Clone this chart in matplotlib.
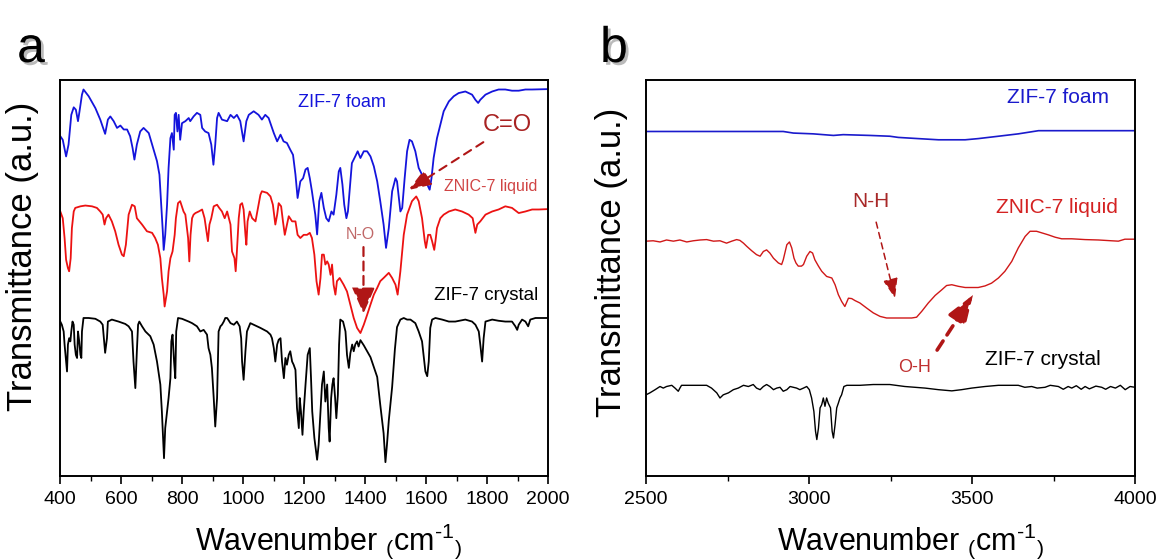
"""FTIR spectra of ZIF-7 foam, ZNIC-7 liquid and ZIF-7 crystal: two panels,
fingerprint region (a) and the N-H / O-H stretch region (b)."""

import matplotlib

matplotlib.use("Agg")

import matplotlib.pyplot as plt  # noqa: E402
import numpy as np  # noqa: E402
from matplotlib import font_manager  # noqa: E402
from matplotlib import patheffects as pe  # noqa: E402
from matplotlib.ticker import MultipleLocator  # noqa: E402

# (wavenumber cm-1, transmittance a.u.), offset traces
FOAM_A = np.array([
    (401, 85.8), (409, 84.9), (420, 80.7), (428, 83.7), (437, 91.2), (445, 93.1),
    (452, 92.5), (459, 89.6), (464, 92.1), (472, 96.3), (477, 97.6), (494, 95.9),
    (516, 92.9), (532, 90.0), (548, 86.4), (557, 90.0), (565, 90.8), (576, 89.6),
    (587, 87.9), (598, 88.5), (609, 87.5), (620, 87.5), (630, 85.8), (638, 82.8),
    (644, 79.9), (652, 83.7), (663, 87.0), (674, 87.9), (691, 86.6), (707, 82.4),
    (718, 79.5), (726, 76.1), (732, 68.5), (737, 61.8), (740, 57.1), (745, 60.9),
    (751, 68.5), (756, 77.8), (762, 85.3), (767, 86.6), (773, 82.4), (776, 91.2),
    (780, 91.7), (785, 87.0), (789, 91.2), (794, 84.9), (800, 89.1), (811, 89.6),
    (822, 90.4), (827, 89.6), (838, 90.8), (849, 91.7), (860, 91.2), (866, 87.9),
    (876, 87.0), (887, 86.6), (896, 83.7), (903, 78.6), (909, 83.7), (915, 90.4),
    (920, 91.7), (931, 90.0), (948, 89.6), (959, 91.2), (970, 90.4), (980, 91.2),
    (991, 89.6), (1002, 84.5), (1011, 89.6), (1019, 91.2), (1035, 92.1),
    (1051, 91.2), (1062, 90.0), (1073, 91.2), (1084, 90.4), (1101, 86.6),
    (1112, 84.5), (1123, 86.2), (1133, 84.5), (1144, 84.1), (1155, 82.4),
    (1164, 81.1), (1172, 76.1), (1179, 70.2), (1188, 74.4), (1197, 75.2),
    (1205, 77.4), (1212, 77.8), (1219, 75.2), (1226, 71.9), (1237, 66.0),
    (1243, 61.0), (1250, 69.4), (1257, 71.5), (1265, 67.7), (1273, 65.1),
    (1281, 64.3), (1290, 66.8), (1297, 66.0), (1306, 71.0), (1314, 76.9),
    (1319, 77.8), (1326, 73.6), (1332, 68.5), (1339, 65.1), (1344, 66.8),
    (1352, 74.4), (1357, 79.0), (1368, 80.7), (1376, 82.0), (1385, 80.3),
    (1396, 82.0), (1407, 82.0), (1418, 80.7), (1429, 78.2), (1440, 74.4),
    (1450, 69.4), (1461, 63.5), (1469, 57.6), (1478, 62.6), (1489, 71.9),
    (1500, 75.2), (1505, 74.4), (1511, 70.2), (1516, 66.8), (1522, 67.7),
    (1530, 75.2), (1538, 82.0), (1546, 84.9), (1554, 84.5), (1565, 82.0),
    (1576, 77.8), (1587, 76.1), (1598, 75.2), (1607, 73.1), (1612, 72.3),
    (1618, 75.2), (1625, 80.3), (1636, 85.3), (1647, 88.7), (1658, 92.1),
    (1675, 94.6), (1691, 95.9), (1707, 96.7), (1729, 97.1), (1751, 96.3),
    (1762, 95.0), (1771, 94.2), (1778, 95.0), (1795, 96.3), (1817, 97.1),
    (1838, 97.6), (1860, 97.6), (1882, 97.3), (1904, 97.3), (1926, 97.6),
    (1948, 97.6), (2000, 97.7),
])

LIQUID_A = np.array([
    (401, 66.8), (409, 65.1), (415, 60.1), (420, 54.6), (426, 52.5), (430, 51.7),
    (435, 55.0), (439, 62.6), (445, 66.8), (450, 67.7), (467, 68.1), (483, 68.3),
    (505, 68.1), (521, 67.7), (532, 66.8), (540, 66.0), (546, 63.5), (551, 65.1),
    (559, 66.0), (570, 64.3), (581, 61.8), (592, 58.4), (603, 55.9), (609, 55.5),
    (616, 58.4), (625, 66.0), (636, 68.5), (645, 68.1), (652, 65.1), (669, 63.5),
    (685, 61.8), (702, 61.4), (712, 60.1), (721, 58.4), (729, 55.0), (734, 50.0),
    (740, 45.8), (743, 42.8), (751, 46.6), (756, 51.7), (762, 55.0), (769, 56.7),
    (776, 60.9), (780, 65.1), (787, 68.9), (794, 69.4), (805, 66.8), (811, 66.0),
    (820, 60.1), (824, 54.2), (828, 60.9), (833, 65.1), (838, 66.0), (844, 66.4),
    (855, 66.8), (866, 67.3), (874, 65.1), (882, 60.9), (885, 59.3), (890, 63.5),
    (896, 65.1), (904, 68.1), (915, 68.5), (922, 67.7), (931, 66.8), (940, 65.1),
    (948, 66.8), (959, 63.5), (964, 56.7), (972, 55.0), (976, 51.7), (980, 56.7),
    (986, 65.1), (991, 68.5), (997, 68.9), (1002, 67.3), (1008, 60.9),
    (1011, 58.4), (1015, 64.3), (1022, 66.8), (1030, 65.1), (1041, 64.3),
    (1051, 68.5), (1057, 71.0), (1062, 71.9), (1079, 71.5), (1090, 70.6),
    (1098, 68.5), (1106, 63.5), (1112, 66.0), (1117, 68.9), (1125, 68.1),
    (1131, 64.3), (1137, 60.9), (1144, 63.5), (1150, 65.6), (1161, 64.3),
    (1172, 64.3), (1179, 60.9), (1188, 60.1), (1199, 60.9), (1210, 60.9),
    (1219, 61.4), (1226, 60.1), (1234, 55.9), (1241, 49.2), (1248, 45.8),
    (1254, 50.0), (1259, 55.9), (1265, 55.9), (1270, 53.4), (1276, 54.2),
    (1281, 53.4), (1287, 50.8), (1292, 53.4), (1297, 48.3), (1303, 45.8),
    (1308, 49.2), (1317, 50.0), (1330, 48.3), (1341, 46.6), (1352, 43.3),
    (1363, 39.9), (1374, 37.4), (1385, 36.1), (1396, 38.2), (1407, 40.7),
    (1418, 43.3), (1429, 45.8), (1440, 47.5), (1450, 49.2), (1461, 50.0),
    (1478, 51.3), (1489, 50.0), (1500, 48.3), (1507, 45.8), (1516, 51.7),
    (1527, 60.9), (1538, 66.0), (1554, 69.4), (1568, 70.6), (1576, 69.4),
    (1587, 65.1), (1596, 59.3), (1600, 57.6), (1607, 60.9), (1614, 60.9),
    (1620, 59.3), (1627, 57.1), (1631, 59.3), (1636, 62.6), (1647, 65.1),
    (1658, 66.0), (1675, 66.8), (1696, 67.3), (1718, 66.8), (1740, 66.0),
    (1753, 65.1), (1762, 61.4), (1768, 63.5), (1778, 64.3), (1795, 66.0),
    (1817, 66.8), (1838, 67.3), (1860, 68.1), (1882, 67.7), (1904, 66.4),
    (1926, 66.8), (1948, 67.3), (1970, 67.3), (2000, 67.4),
])

CRYSTAL_A = np.array([
    (401, 39.0), (406, 38.2), (412, 36.5), (415, 33.2), (420, 28.9), (423, 26.4),
    (426, 33.2), (430, 34.8), (434, 34.0), (437, 36.5), (441, 39.0), (445, 38.2),
    (448, 33.2), (452, 30.6), (456, 29.8), (459, 36.5), (463, 34.0), (467, 30.6),
    (470, 29.8), (472, 36.5), (477, 39.9), (494, 39.9), (516, 39.7), (532, 39.0),
    (540, 38.2), (544, 34.8), (548, 31.1), (554, 34.8), (557, 39.0), (570, 39.5),
    (592, 39.0), (614, 38.4), (625, 37.8), (636, 36.5), (641, 28.9), (647, 22.2),
    (652, 31.5), (656, 38.2), (660, 39.0), (669, 37.8), (680, 36.5), (696, 35.3),
    (707, 33.2), (718, 28.9), (729, 23.1), (734, 16.3), (738, 9.6), (741, 4.5),
    (745, 12.1), (751, 16.3), (756, 19.7), (762, 24.7), (765, 34.0), (769, 35.7),
    (774, 28.9), (778, 24.7), (781, 36.5), (787, 39.9), (800, 39.7), (822, 39.0),
    (833, 38.6), (849, 37.8), (860, 36.5), (871, 36.9), (882, 35.7), (887, 32.3),
    (893, 30.6), (898, 27.3), (904, 19.7), (909, 12.5), (915, 19.7), (920, 36.5),
    (926, 37.8), (931, 38.2), (937, 39.0), (942, 39.9), (948, 39.9), (959, 38.6),
    (970, 38.2), (980, 39.0), (989, 37.8), (994, 34.8), (997, 28.9), (1002, 24.3),
    (1008, 31.5), (1013, 36.5), (1024, 38.6), (1035, 38.2), (1057, 37.4),
    (1079, 36.5), (1090, 35.7), (1095, 34.8), (1101, 32.3), (1106, 28.9),
    (1112, 33.2), (1117, 34.4), (1123, 34.8), (1128, 28.9), (1134, 24.7),
    (1139, 29.8), (1144, 28.1), (1150, 30.6), (1155, 31.5), (1161, 28.9),
    (1166, 28.1), (1172, 26.8), (1177, 17.2), (1183, 12.1), (1186, 19.7),
    (1190, 16.3), (1195, 10.4), (1199, 16.3), (1205, 23.1), (1212, 30.6),
    (1219, 32.3), (1223, 24.7), (1227, 16.3), (1234, 9.6), (1243, 4.1),
    (1248, 7.9), (1254, 16.3), (1259, 23.1), (1265, 26.4), (1270, 18.8),
    (1276, 23.1), (1281, 12.1), (1284, 8.7), (1289, 19.7), (1293, 23.1),
    (1297, 24.7), (1302, 19.7), (1306, 14.6), (1311, 20.5), (1315, 33.2),
    (1319, 39.5), (1328, 39.0), (1336, 36.5), (1341, 30.6), (1347, 27.3),
    (1352, 31.0), (1358, 33.2), (1363, 31.5), (1368, 33.2), (1374, 34.0),
    (1379, 32.7), (1385, 34.3), (1396, 33.0), (1407, 31.5), (1418, 30.0),
    (1429, 27.5), (1440, 25.0), (1450, 18.0), (1461, 10.8), (1467, 3.5),
    (1472, 7.9), (1478, 14.0), (1489, 22.5), (1498, 32.0), (1505, 37.6),
    (1516, 39.5), (1527, 39.9), (1538, 39.5), (1549, 39.5), (1565, 38.6),
    (1576, 36.5), (1587, 34.0), (1593, 29.8), (1598, 26.4), (1604, 25.2),
    (1609, 28.9), (1614, 37.4), (1620, 39.5), (1631, 39.9), (1653, 39.5),
    (1675, 39.0), (1696, 39.0), (1729, 39.5), (1751, 39.0), (1762, 38.2),
    (1773, 36.5), (1778, 33.2), (1784, 28.9), (1789, 34.8), (1795, 39.0),
    (1817, 39.5), (1838, 39.2), (1860, 39.0), (1882, 39.0), (1893, 37.8),
    (1899, 36.9), (1904, 38.2), (1915, 39.5), (1926, 39.0), (1935, 37.8),
    (1942, 39.5), (1959, 39.9), (1981, 39.9), (2000, 39.9),
])

FOAM_B = np.array([
    (2500, 87.0), (2921, 87.0), (2952, 86.6), (3013, 86.4), (3075, 86.0),
    (3105, 86.2), (3187, 86.0), (3248, 85.8), (3274, 85.5), (3335, 85.2),
    (3397, 84.9), (3479, 84.9), (3519, 85.2), (3581, 85.8), (3642, 86.4),
    (3704, 87.2), (3795, 87.2), (4000, 87.2),
])

LIQUID_B = np.array([
    (2500, 59.3), (2522, 59.4), (2543, 59.1), (2563, 59.6), (2584, 59.3),
    (2604, 59.6), (2625, 59.1), (2645, 59.4), (2666, 59.6), (2686, 59.7),
    (2707, 59.3), (2727, 59.4), (2747, 58.8), (2763, 59.3), (2778, 59.7),
    (2788, 59.5), (2799, 58.8), (2809, 58.0), (2824, 56.9), (2839, 55.9),
    (2850, 55.5), (2860, 56.7), (2870, 57.1), (2880, 56.3), (2891, 55.0),
    (2906, 53.8), (2916, 53.4), (2921, 54.6), (2932, 58.4), (2940, 59.1),
    (2947, 57.6), (2954, 55.0), (2960, 53.8), (2967, 53.0), (2977, 53.0),
    (2983, 53.4), (2993, 55.5), (3003, 56.7), (3011, 56.3), (3018, 54.6),
    (3029, 53.0), (3039, 51.7), (3054, 50.4), (3070, 50.0), (3080, 48.3),
    (3090, 45.8), (3100, 44.1), (3110, 42.8), (3121, 44.9), (3131, 44.8),
    (3141, 44.3), (3156, 43.7), (3177, 42.4), (3197, 41.2), (3218, 40.3),
    (3238, 39.9), (3254, 39.9), (3274, 39.9), (3295, 39.9), (3315, 39.9),
    (3330, 40.1), (3346, 41.6), (3366, 43.7), (3387, 45.6), (3407, 47.0),
    (3422, 48.1), (3438, 48.3), (3458, 47.9), (3479, 47.6), (3499, 47.6),
    (3519, 47.6), (3540, 48.0), (3560, 48.7), (3581, 50.0), (3601, 51.7),
    (3622, 54.2), (3642, 57.6), (3663, 60.5), (3678, 61.8), (3698, 61.8),
    (3714, 61.4), (3734, 60.9), (3755, 60.3), (3775, 59.9), (3806, 59.9),
    (3847, 59.7), (3888, 59.6), (3928, 59.4), (3949, 59.3), (3969, 59.8),
    (4000, 59.8),
])

CRYSTAL_B = np.array([
    (2500, 20.5), (2512, 21.0), (2528, 21.8), (2543, 22.6), (2553, 22.2),
    (2563, 22.6), (2579, 22.9), (2589, 22.2), (2599, 21.4), (2604, 22.2),
    (2609, 22.9), (2635, 22.9), (2666, 22.9), (2686, 22.9), (2701, 22.2),
    (2717, 21.0), (2727, 19.7), (2737, 20.5), (2753, 21.0), (2768, 21.8),
    (2783, 22.2), (2799, 22.9), (2814, 22.6), (2829, 23.1), (2839, 22.2),
    (2850, 21.8), (2860, 22.6), (2870, 23.1), (2880, 22.6), (2891, 21.8),
    (2901, 22.2), (2911, 22.4), (2921, 21.4), (2932, 21.8), (2942, 22.6),
    (2952, 22.4), (2962, 22.2), (2972, 21.8), (2983, 22.2), (2993, 22.6),
    (3001, 21.8), (3008, 19.7), (3015, 16.3), (3020, 11.3), (3024, 9.2),
    (3029, 12.1), (3034, 17.2), (3039, 18.0), (3044, 19.7), (3049, 17.6),
    (3054, 19.7), (3059, 18.4), (3066, 17.2), (3071, 11.3), (3075, 9.6),
    (3080, 13.0), (3085, 17.2), (3090, 18.4), (3095, 19.7), (3100, 20.5),
    (3107, 22.6), (3116, 22.9), (3156, 22.9), (3197, 23.1), (3248, 23.1),
    (3294, 22.6), (3356, 22.2), (3397, 21.8), (3438, 21.5), (3468, 21.8),
    (3499, 22.2), (3540, 22.6), (3581, 22.9), (3642, 22.9), (3662, 22.4),
    (3683, 22.6), (3700, 22.2), (3724, 22.4), (3740, 22.9), (3765, 22.6),
    (3780, 21.9), (3795, 22.6), (3806, 22.2), (3820, 22.8), (3835, 21.9),
    (3847, 22.6), (3860, 22.0), (3880, 22.7), (3898, 22.4), (3910, 21.9),
    (3925, 22.6), (3940, 22.2), (3955, 22.9), (3970, 21.8), (3985, 22.6),
    (4000, 22.4),
])

BLUE = "#1414DC"
RED = "#EC1212"
RED_B = "#D01818"
ARROW_RED = "#B01616"

installed = {f.name for f in font_manager.fontManager.ttflist}
HAS_NARROW = "Liberation Sans Narrow" in installed
NARROW = "Liberation Sans Narrow" if HAS_NARROW else "Liberation Sans"

plt.rcParams["font.family"] = ["Liberation Sans", "DejaVu Sans"]
plt.rcParams["mathtext.default"] = "regular"

fig = plt.figure(figsize=(11.64, 5.6), dpi=100)
ax_a = fig.add_axes([60 / 1164, 84 / 560, 488 / 1164, 396 / 560])
ax_b = fig.add_axes([646 / 1164, 84 / 560, 489 / 1164, 396 / 560])


def style_axes(ax, xlim, major, minor, label_x, ylabel_x, ylabel_y):
    ax.set_xlim(*xlim)
    ax.set_ylim(0, 100)
    ax.set_yticks([])
    ax.xaxis.set_major_locator(MultipleLocator(major))
    ax.xaxis.set_minor_locator(MultipleLocator(minor))
    ax.tick_params(axis="x", which="major", direction="out", length=6, width=1.2,
                   pad=5, labelsize=16 if HAS_NARROW else 14)
    ax.tick_params(axis="x", which="minor", direction="out", length=3.5, width=1.0)
    for label in ax.get_xticklabels():
        label.set_family(NARROW)
    for spine in ax.spines.values():
        spine.set_linewidth(1.4)
    ax.set_xlabel("Wavenumber $_{(}$cm$^{\u20101}{}_{)}$", family=NARROW,
                  fontsize=26 if HAS_NARROW else 22, va="center")
    ax.xaxis.set_label_coords(label_x, -0.165)
    ax.set_ylabel("Transmittance (a.u.)", fontsize=25, va="center")
    ax.yaxis.set_label_coords(ylabel_x, ylabel_y)


def dashed_arrow(ax, start, tip, lw, head_length, head_width, dashes):
    ax.annotate(
        "", xy=tip, xytext=start,
        arrowprops=dict(
            arrowstyle=f"-|>,head_length={head_length},head_width={head_width}",
            color=ARROW_RED, lw=lw, linestyle=(0, dashes),
            shrinkA=0, shrinkB=0, joinstyle="miter",
        ),
    )


# panel a
ax_a.plot(FOAM_A[:, 0], FOAM_A[:, 1], color=BLUE, lw=1.3)
ax_a.plot(LIQUID_A[:, 0], LIQUID_A[:, 1], color=RED, lw=1.3)
ax_a.plot(CRYSTAL_A[:, 0], CRYSTAL_A[:, 1], color="black", lw=1.3)
style_axes(ax_a, (400, 2000), 200, 100, 0.55, -0.076, 0.555)

ax_a.text(1323, 94.4, "ZIF-7 foam", color=BLUE, fontsize=13, ha="center", va="center")
ax_a.text(1811, 73.0, "ZNIC-7 liquid", color="#D04444", fontsize=11.5,
          ha="center", va="center")
ax_a.text(1798, 45.7, "ZIF-7 crystal", color="black", fontsize=13.5,
          ha="center", va="center")
ax_a.text(1866, 88.6, "C=O", color="#A82222", fontsize=17, ha="center", va="center")
ax_a.text(1385, 61.1, "N-O", color="#C06868", fontsize=11.5, ha="center", va="center")
dashed_arrow(ax_a, (1788, 84.3), (1542, 72.2), 1.5, 1.4, 0.5, (4, 3))
dashed_arrow(ax_a, (1395, 57.8), (1395, 41.0), 1.6, 1.6, 0.7, (4, 2.5))

# panel b
ax_b.plot(FOAM_B[:, 0], FOAM_B[:, 1], color="#1A1ACC", lw=1.2)
ax_b.plot(LIQUID_B[:, 0], LIQUID_B[:, 1], color=RED_B, lw=1.0)
ax_b.plot(CRYSTAL_B[:, 0], CRYSTAL_B[:, 1], color="black", lw=1.0)
style_axes(ax_b, (2500, 4000), 500, 250, 0.54, -0.07, 0.54)

ax_b.text(3764, 95.5, "ZIF-7 foam", color="#1A1ACC", fontsize=15,
          ha="center", va="center")
ax_b.text(3761, 67.7, "ZNIC-7 liquid", color="#D42222", fontsize=15,
          ha="center", va="center")
ax_b.text(3718, 29.3, "ZIF-7 crystal", color="black", fontsize=15,
          ha="center", va="center")
ax_b.text(3190, 69.2, "N-H", color="#A82828", fontsize=15, ha="center", va="center")
ax_b.text(3325, 27.5, "O-H", color="#C03030", fontsize=13, ha="center", va="center")
dashed_arrow(ax_b, (3206, 64.1), (3264, 44.9), 1.1, 1.2, 0.45, (4, 3))
dashed_arrow(ax_b, (3393, 31.8), (3503, 45.7), 2.6, 1.7, 0.6, (3, 2))

shadow = [pe.SimplePatchShadow(offset=(2, -2), shadow_rgbFace="0.55", alpha=0.6),
          pe.Normal()]
for letter, x in (("a", 31), ("b", 614)):
    fig.text(x / 1164, 1 - 62 / 560, letter, family=NARROW,
             fontsize=41 if HAS_NARROW else 36, ha="center", va="baseline",
             path_effects=shadow)

fig.savefig("out.png", dpi=100)
